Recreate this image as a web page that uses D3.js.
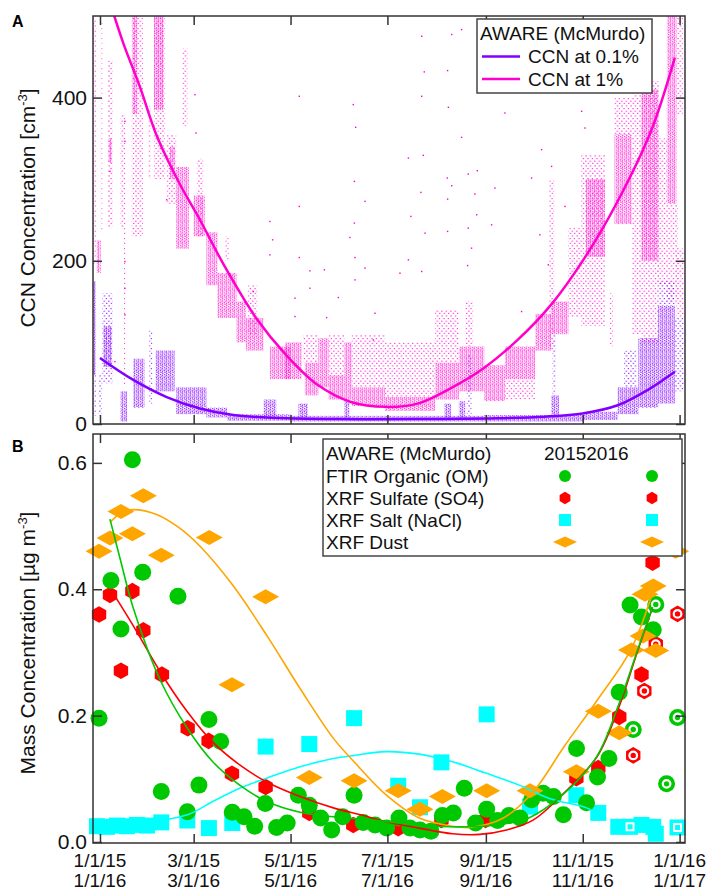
<!DOCTYPE html>
<html>
<head>
<meta charset="utf-8">
<script src="https://cdn.jsdelivr.net/npm/d3@7"></script>
<style>
  html, body { margin: 0; padding: 0; background: #fff; }
  svg { display: block; font-family: "Liberation Sans", Arial, sans-serif; }
</style>
</head>
<body>
<svg id="chart" width="707" height="890"></svg>
<script>
// ---------- data (day 0 = 1 Jan) ----------
const tickDays = [0, 59, 120, 181, 243, 304, 365];
const tickLabelsA = ['1/1/15', '3/1/15', '5/1/15', '7/1/15', '9/1/15', '11/1/15', '1/1/16'];
const tickLabelsB = ['1/1/16', '3/1/16', '5/1/16', '7/1/16', '9/1/16', '11/1/16', '1/1/17'];
const ccnTicks = [0, 200, 400];
const massTicks = [0, 0.2, 0.4, 0.6];

// CCN observations, read as streaks of dots: [dayStart, dayEnd, low, high]
const ccn1Dense = [
  [-2, 0.5, 185, 225], [5.5, 7.5, 320, 350], [20.5, 23.5, 380, 500], [34, 40, 385, 500],
  [44, 47, 300, 340], [48, 56, 215, 315], [59, 66, 230, 280], [67, 74, 170, 235],
  [74, 86, 130, 185], [86, 92, 100, 150], [92, 103, 90, 130], [107, 120, 55, 95],
  [116.5, 127, 55, 100], [129, 137.5, 35, 75], [137.5, 144, 45, 105], [144, 154, 30, 60],
  [154, 158.5, 30, 100], [158.5, 179.5, 22, 45], [179.5, 211, 16, 33], [211, 226, 30, 75],
  [226, 242, 40, 95], [242, 255, 28, 72], [255, 274, 55, 95], [274, 284, 90, 135],
  [284, 295, 110, 150], [306, 318, 205, 300], [324, 335, 245, 355], [341, 351.5, 200, 410],
  [357, 363, 270, 500]
];
const ccn1Sparse = [
  [-4.5, -2.4, 195, 500], [0.5, 1.5, 235, 495], [5, 8, 240, 445], [13, 16, 240, 380],
  [15, 16, 45, 240], [20, 27, 230, 500], [30.5, 32, 300, 390], [34, 41, 300, 500],
  [42, 48, 270, 355], [52, 55, 365, 460], [61, 65, 230, 325], [79, 81, 200, 230],
  [93, 99, 110, 170], [128, 137, 75, 110], [144, 154, 60, 110], [158.5, 179.5, 45, 110],
  [179.5, 211, 33, 100], [211, 226, 75, 140], [230, 235, 95, 150], [255, 274, 30, 55],
  [283, 286, 90, 300], [295, 303, 130, 240], [303, 318, 120, 330], [321, 323, 95, 160],
  [324, 335, 355, 400], [335, 341, 110, 405], [341, 352, 100, 420], [351.5, 357, 170, 350],
  [357, 364, 150, 270], [363, 368, 130, 215], [363, 367, 380, 500]
];
const ccn1Isolated = [
  [125.5, 401.6], [125.5, 266.6], [125.5, 204.0], [132.2, 187.7], [141.3, 188.9], [159.5, 391.4],
  [161.0, 363.6], [160.2, 297.3], [160.2, 246.2], [157.4, 228.6], [160.6, 204.0], [160.6, 176.6],
  [166.9, 272.8], [166.9, 191.0], [173.2, 135.7], [188.9, 184.8], [194.2, 325.9], [194.2, 201.2],
  [195.8, 254.4], [202.6, 475.2], [204.2, 431.5], [202.6, 401.6], [203.6, 329.2], [202.1, 283.8],
  [204.7, 233.9], [202.6, 186.9], [218.9, 433.1], [219.4, 388.1], [221.5, 477.3], [218.7, 301.4],
  [218.9, 275.6], [221.5, 292.0], [218.9, 236.0], [227.7, 483.4], [227.7, 351.3], [231.9, 306.3],
  [236.1, 281.8], [237.6, 310.4], [237.2, 256.4], [231.9, 240.0], [234.0, 215.5], [231.5, 194.2],
  [142.7, 130.4], [150.1, 155.0], [172.1, 103.0], [122.8, 154.2], [132.2, 166.4], [122.8, 131.7],
  [59.8, 403.6], [60.5, 356.6], [107.0, 207.3], [107.0, 248.2], [108.7, 225.7], [96.6, 162.3],
  [42.0, 274.8], [15.7, 370.9], [15.7, 346.4], [6.3, 309.6], [15.7, 199.1], [15.7, 166.4],
  [15.7, 133.7], [9.4, 76.4], [255.0, 381.1], [248.7, 289.1], [278.1, 336.2], [271.8, 301.4],
  [284.4, 315.7], [292.8, 266.6], [303.3, 383.2], [305.4, 362.7], [282.3, 195.1], [277.0, 231.9],
  [265.5, 137.8], [246.6, 244.1]
];
const ccn01Dense = [
  [-4.5, -2.5, 60, 175], [2, 7.5, 70, 120], [13, 17, 3, 40], [21, 28, 20, 80],
  [35, 47, 40, 90], [48, 67, 12, 45], [67, 80, 8, 20], [80, 120, 4, 12],
  [103, 111, 10, 30], [120, 242, 3, 10], [125, 131, 8, 25], [154, 157, 8, 30],
  [217, 221, 8, 25], [226, 230, 8, 28], [242, 305, 3, 11], [284, 289, 8, 35],
  [305, 326, 5, 15], [326, 339, 12, 45], [339, 351.5, 20, 105], [351.5, 362, 25, 145]
];
const ccn01Sparse = [
  [-4.5, -2.5, 10, 60], [-1, 1.3, 10, 60], [1.5, 8, 50, 160], [31, 33, 25, 115],
  [231, 234, 10, 85], [285, 287, 35, 110], [330, 338, 45, 90], [352, 362, 145, 175],
  [362, 368, 40, 130]
];
// seasonal fits [day, value]
const ccn1Fit = [[9, 500], [15, 465], [25, 414], [36, 352], [50, 295], [63, 250], [78, 195], [99, 128],
  [117, 85], [137, 48], [158, 27], [180, 21], [200, 25], [221, 44], [242, 69], [263, 103], [284, 146],
  [305, 203], [326, 273], [347, 359], [362, 449]];
const ccn01Fit = [[0, 81], [21, 54], [42, 33], [63, 19], [84, 11], [105, 8], [150, 6], [200, 6],
  [250, 7], [280, 9], [304, 13], [326, 23], [346, 43], [362, 64]];

// filter samples [day, µg m-3]
const omPoints = [[-0.6, 0.196], [6.9, 0.414], [13.2, 0.337], [20.4, 0.605], [26.9, 0.427], [38.6, 0.080],
  [49.1, 0.389], [55, 0.048], [62.3, 0.090], [68.6, 0.194], [76, 0.159], [83.3, 0.047], [90.7, 0.040],
  [97.4, 0.025], [104.1, 0.061], [111.2, 0.023], [117.9, 0.030], [124.9, 0.074], [131.8, 0.058],
  [139, 0.038], [145.9, 0.019], [152.8, 0.040], [160, 0.074], [165.8, 0.031], [173.2, 0.027],
  [180.5, 0.022], [188.3, 0.038], [195.2, 0.022], [201.5, 0.019], [208.4, 0.017], [215.6, 0.042],
  [222.5, 0.046], [229.4, 0.085], [236.5, 0.030], [243.5, 0.052], [250.4, 0.034], [257.5, 0.042],
  [264.5, 0.038], [271.8, 0.067], [279, 0.077], [285.5, 0.072], [291.8, 0.043], [300.1, 0.148],
  [306.4, 0.062], [313.3, 0.103], [320.5, 0.132], [327, 0.237], [333.8, 0.375], [341, 0.356],
  [348.4, 0.336]];
const omRings = [[335.8, 0.178], [350, 0.376], [363.7, 0.197], [356.8, 0.092]];
const so4Points = [[-0.6, 0.360], [6.3, 0.391], [13.2, 0.271], [20.4, 0.397], [27.3, 0.335], [39, 0.265],
  [55.2, 0.180], [68.4, 0.160], [83.1, 0.108], [104.3, 0.087], [131.8, 0.046], [159.5, 0.027],
  [187.8, 0.022], [215, 0.035], [242.8, 0.035], [300, 0.101], [313.8, 0.117], [327, 0.198],
  [341, 0.265], [348, 0.442]];
const so4Rings = [[335.8, 0.137], [342.8, 0.239], [350, 0.313], [363.7, 0.361]];
const naclPoints = [[-1.9, 0.025], [4.4, 0.024], [10.7, 0.026], [17, 0.025], [23.3, 0.027], [29.6, 0.026],
  [38.6, 0.031], [55, 0.034], [68.6, 0.022], [83.3, 0.030], [104.3, 0.151], [131.8, 0.155],
  [160, 0.196], [187.8, 0.089], [201.5, 0.055], [215, 0.126], [243.5, 0.202], [270.8, 0.056],
  [300, 0.074], [313.8, 0.046], [326.4, 0.024], [341, 0.027], [348.4, 0.024], [350, 0.013]];
const naclRings = [[333.8, 0.024], [363.7, 0.023]];
const dustPoints = [[-0.6, 0.460], [6.3, 0.481], [13.2, 0.523], [20.4, 0.488], [27.3, 0.548], [38.6, 0.454],
  [68.8, 0.482], [83.1, 0.249], [104.3, 0.388], [131.8, 0.102], [160, 0.097], [187.8, 0.081],
  [201.5, 0.052], [215.6, 0.072], [243.5, 0.081], [270.8, 0.081], [300, 0.111], [313.8, 0.207],
  [327, 0.173], [334.7, 0.304], [342, 0.326], [350, 0.303], [343.2, 0.392], [348.4, 0.405]];
const dustRings = [[362.5, 0.46]];

const omFit = [[6.3, 0.511], [13, 0.445], [21, 0.370], [38, 0.256], [55, 0.180], [71, 0.127], [88, 0.090],
  [105, 0.064], [126, 0.047], [147, 0.040], [170, 0.035], [200, 0.027], [225, 0.024], [250, 0.027],
  [270, 0.038], [292, 0.076], [313, 0.136], [327, 0.220], [338, 0.300], [348, 0.372]];
const so4Fit = [[9.4, 0.389], [21, 0.342], [38, 0.269], [55, 0.206], [71, 0.158], [88, 0.122], [105, 0.095],
  [126, 0.072], [147, 0.054], [164, 0.043], [180, 0.032], [201, 0.022], [222, 0.013], [239, 0.012],
  [256, 0.019], [273, 0.035], [292, 0.077], [313, 0.135], [327, 0.215], [338, 0.298], [348, 0.371]];
const naclFit = [[33, 0.032], [55, 0.043], [71, 0.064], [88, 0.085], [105, 0.101], [126, 0.119], [147, 0.132],
  [160, 0.137], [180, 0.143], [201, 0.139], [222, 0.127], [243, 0.109], [264, 0.090], [283, 0.069],
  [304, 0.056], [309, 0.051]];
const dustFit = [[6.3, 0.506], [14, 0.522], [21, 0.526], [36, 0.518], [50, 0.497], [63, 0.468], [84, 0.405],
  [105, 0.327], [126, 0.243], [147, 0.164], [160, 0.127], [180, 0.075], [201, 0.038], [222, 0.025],
  [233, 0.023], [254, 0.038], [273, 0.080], [292, 0.150], [313, 0.224], [334, 0.303], [347, 0.387]];

const speciesLabels = ['FTIR Organic (OM)', 'XRF Sulfate (SO4)', 'XRF Salt (NaCl)', 'XRF Dust'];
const ccnLabels = ['CCN at 0.1%', 'CCN at 1%'];

// ---------- setup ----------
const colors = {
  purple: '#8000ff', pink: '#ff00cc',
  om: '#00c800', so4: '#ff0000', nacl: '#00ffff', dust: '#ffa500', frame: '#333'
};
const svg = d3.select('#chart');
const defs = svg.append('defs');

const x = d3.scaleLinear().domain([-4.4, 368.4]).range([93, 685]);
const yCcn = d3.scaleLinear().domain([0, 500]).range([424, 16]);
const yMass = d3.scaleLinear().domain([-0.0016, 0.6457]).range([843, 434]);

defs.append('clipPath').attr('id', 'clipA').append('rect')
  .attr('x', 93).attr('y', 16).attr('width', 592).attr('height', 408);

// dot textures for the streaks: thin dotted columns, like the 1-min samples
const denseTile = [[0.7, 0.4], [1.1, 2.1], [0.6, 3.6], [1.0, 5.3], [2.6, 1.2], [2.9, 3.0], [2.5, 4.6], [2.8, 6.2]];
const sparseTile = [[0.8, 1.2], [1.1, 5.9], [3.3, 3.4], [3.0, 8.6]];
function dotPattern(id, color, w, h, tile, opacity) {
  const p = defs.append('pattern').attr('id', id).attr('patternUnits', 'userSpaceOnUse')
    .attr('width', w).attr('height', h);
  tile.forEach(([cx, cy]) => {
    p.append('rect').attr('x', cx - 0.6).attr('y', cy - 0.6).attr('width', 1.2).attr('height', 1.2)
      .attr('fill', color).attr('fill-opacity', opacity);
  });
}
dotPattern('pinkDense', colors.pink, 4, 6.8, denseTile, 0.8);
dotPattern('pinkSparse', colors.pink, 4.5, 10, sparseTile, 0.8);
dotPattern('purpleDense', colors.purple, 4, 6.8, denseTile, 0.85);
dotPattern('purpleSparse', colors.purple, 4.5, 10, sparseTile, 0.85);

// ---------- panel A ----------
const gA = svg.append('g').attr('clip-path', 'url(#clipA)');

function drawStreaks(rows, fill) {
  gA.append('g').selectAll('rect').data(rows).join('rect')
    .attr('x', d => x(d[0]))
    .attr('width', d => x(d[1]) - x(d[0]))
    .attr('y', d => yCcn(d[3]))
    .attr('height', d => yCcn(d[2]) - yCcn(d[3]))
    .attr('fill', fill);
}
drawStreaks(ccn1Sparse, 'url(#pinkSparse)');
drawStreaks(ccn1Dense, 'url(#pinkDense)');
gA.append('g').selectAll('rect').data(ccn1Isolated).join('rect')
  .attr('x', d => x(d[0]) - 0.7).attr('y', d => yCcn(d[1]) - 0.7)
  .attr('width', 1.4).attr('height', 1.4).attr('fill', colors.pink);
drawStreaks(ccn01Sparse, 'url(#purpleSparse)');
drawStreaks(ccn01Dense, 'url(#purpleDense)');

const ccnLine = d3.line().x(d => x(d[0])).y(d => yCcn(d[1])).curve(d3.curveCatmullRom);
gA.append('path').attr('d', ccnLine(ccn1Fit)).attr('fill', 'none')
  .attr('stroke', colors.pink).attr('stroke-width', 2.5);
gA.append('path').attr('d', ccnLine(ccn01Fit)).attr('fill', 'none')
  .attr('stroke', colors.purple).attr('stroke-width', 2.5);

// ---------- panel B ----------
const gB = svg.append('g');

function hexPath(r) {
  const pts = d3.range(6).map(i => {
    const a = (Math.PI / 3) * i - Math.PI / 2;
    return [r * Math.cos(a), r * Math.sin(a)];
  });
  return 'M' + pts.map(p => p.join(',')).join('L') + 'Z';
}
function diamondPath(w, h) {
  return `M${-w / 2},0L0,${-h / 2}L${w / 2},0L0,${h / 2}Z`;
}
function squarePath(s) {
  return `M${-s / 2},${-s / 2}h${s}v${s}h${-s}Z`;
}
const shapes = {
  om: { path: d3.symbol(d3.symbolCircle, Math.PI * 8.5 * 8.5)(), legend: d3.symbol(d3.symbolCircle, Math.PI * 36)() },
  so4: { path: hexPath(8.3), legend: hexPath(6.2) },
  nacl: { path: squarePath(16), legend: squarePath(12) },
  dust: { path: diamondPath(27, 15), legend: diamondPath(24, 11) }
};

function drawMarkers(points, key, ring) {
  const g = gB.append('g').selectAll('g').data(points).join('g')
    .attr('transform', d => `translate(${x(d[0])},${yMass(d[1])})`);
  g.append('path').attr('d', shapes[key].path).attr('fill', colors[key]);
  if (ring) {
    if (key === 'nacl') {
      g.append('path').attr('d', squarePath(7)).attr('fill', 'none')
        .attr('stroke', '#fff').attr('stroke-width', 2);
    } else {
      g.append('circle').attr('r', 3.8).attr('fill', 'none')
        .attr('stroke', '#fff').attr('stroke-width', 2.2);
    }
  }
}
drawMarkers(naclPoints, 'nacl');
drawMarkers(naclRings, 'nacl', true);
drawMarkers(so4Points, 'so4');
drawMarkers(so4Rings, 'so4', true);
drawMarkers(omPoints, 'om');
drawMarkers(omRings, 'om', true);
drawMarkers(dustPoints, 'dust');
drawMarkers(dustRings, 'dust', true);

const massLine = d3.line().x(d => x(d[0])).y(d => yMass(d[1])).curve(d3.curveCatmullRom);
[[naclFit, 'nacl'], [dustFit, 'dust'], [so4Fit, 'so4'], [omFit, 'om']].forEach(([fit, key]) => {
  gB.append('path').attr('d', massLine(fit)).attr('fill', 'none')
    .attr('stroke', colors[key]).attr('stroke-width', 1.6);
});

// ---------- axes & frames ----------
function frame(y0, y1) {
  svg.append('rect').attr('x', 93).attr('y', y0).attr('width', 592).attr('height', y1 - y0)
    .attr('fill', 'none').attr('stroke', colors.frame).attr('stroke-width', 1.5);
}
function styleAxis(g) {
  g.select('.domain').remove();
  g.selectAll('line').attr('stroke', colors.frame).attr('stroke-width', 1.5);
  g.selectAll('text').attr('fill', '#111').attr('font-family', '"Liberation Sans", Arial, sans-serif');
}
function panelAxes(yScale, yTicks, fmt, top, bottom) {
  svg.append('g').attr('transform', 'translate(93,0)')
    .call(d3.axisLeft(yScale).tickValues(yTicks).tickFormat(fmt).tickSize(-9).tickPadding(6))
    .call(styleAxis).call(g => g.selectAll('text').attr('font-size', 21));
  svg.append('g').attr('transform', 'translate(685,0)')
    .call(d3.axisRight(yScale).tickValues(yTicks).tickFormat('').tickSize(-9))
    .call(styleAxis);
  svg.append('g').attr('transform', `translate(0,${top})`)
    .call(d3.axisTop(x).tickValues(tickDays).tickFormat('').tickSize(-9))
    .call(styleAxis);
  svg.append('g').attr('transform', `translate(0,${bottom})`)
    .call(d3.axisBottom(x).tickValues(tickDays).tickFormat('').tickSize(-9))
    .call(styleAxis);
  frame(top, bottom);
}
panelAxes(yCcn, ccnTicks, d3.format('d'), 16, 424);
panelAxes(yMass, massTicks, d3.format('.1f'), 434, 843);

// two-year date labels under panel B
const dateLbl = svg.append('g').attr('font-size', 19).attr('text-anchor', 'middle').attr('fill', '#111');
dateLbl.selectAll('text.a').data(tickDays).join('text').attr('class', 'a')
  .attr('x', d => x(d)).attr('y', 867).text((d, i) => tickLabelsA[i]);
dateLbl.selectAll('text.b').data(tickDays).join('text').attr('class', 'b')
  .attr('x', d => x(d)).attr('y', 887).text((d, i) => tickLabelsB[i]);

// axis titles
function yTitle(cy, main) {
  const t = svg.append('text').attr('transform', `translate(35,${cy}) rotate(-90)`)
    .attr('text-anchor', 'middle').attr('font-size', 21).attr('fill', '#111');
  t.append('tspan').text(main);
  t.append('tspan').attr('dy', -8).attr('font-size', 13).text('-3');
  t.append('tspan').attr('dy', 8).text(']');
}
yTitle(208, 'CCN Concentration [cm');
yTitle(643, 'Mass Concentration [\u00b5g m');

svg.append('text').attr('x', 12).attr('y', 27).attr('font-size', 16).attr('font-weight', 'bold').text('A');
svg.append('text').attr('x', 12).attr('y', 452).attr('font-size', 16).attr('font-weight', 'bold').text('B');

// ---------- legends ----------
const legA = svg.append('g').attr('font-size', 19).attr('fill', '#111');
legA.append('rect').attr('x', 477).attr('y', 19).attr('width', 175).attr('height', 74)
  .attr('fill', '#fff').attr('stroke', '#444').attr('stroke-width', 1.5);
legA.append('text').attr('x', 480).attr('y', 40).text('AWARE (McMurdo)');
[colors.purple, colors.pink].forEach((c, i) => {
  const yy = 56.5 + i * 22.5;
  legA.append('line').attr('x1', 482).attr('x2', 520).attr('y1', yy).attr('y2', yy)
    .attr('stroke', c).attr('stroke-width', 2.7);
  legA.append('text').attr('x', 528).attr('y', yy + 6.5).text(ccnLabels[i]);
});

const legB = svg.append('g').attr('font-size', 19).attr('fill', '#111');
legB.append('rect').attr('x', 323).attr('y', 439).attr('width', 359).attr('height', 117)
  .attr('fill', '#fff').attr('stroke', '#444').attr('stroke-width', 1.5);
legB.append('text').attr('x', 326).attr('y', 460).text('AWARE (McMurdo)');
legB.append('text').attr('x', 544).attr('y', 460).text('20152016');
['om', 'so4', 'nacl', 'dust'].forEach((key, i) => {
  const yy = 476 + i * 22;
  legB.append('text').attr('x', 326).attr('y', yy + 6.5).text(speciesLabels[i]);
  [565, 652].forEach(cx => {
    legB.append('path').attr('d', shapes[key].legend).attr('fill', colors[key])
      .attr('transform', `translate(${cx},${yy})`);
  });
});
</script>
</body>
</html>
